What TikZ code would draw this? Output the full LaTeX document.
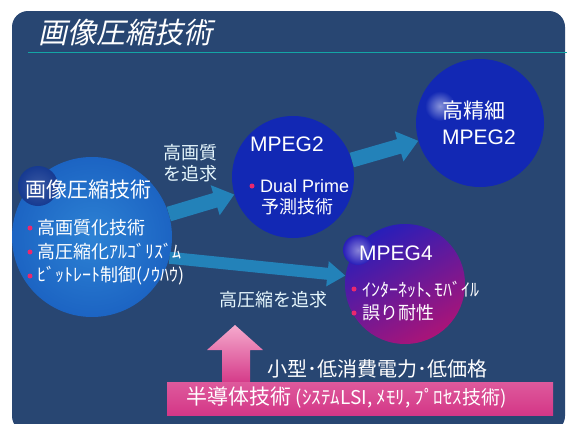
\documentclass[tikz,border=0pt]{standalone}
\usepackage{fontspec}
\setmainfont{Noto Sans CJK JP}
\newfontfamily\latf{Liberation Sans}
\newfontfamily\titlef[FakeSlant=0.22]{Noto Sans CJK JP}
\usetikzlibrary{arrows.meta}
\definecolor{bg}{RGB}{40,70,114}
\definecolor{teal1}{RGB}{20,165,165}
\definecolor{lcirc}{RGB}{28,100,195}
\definecolor{lcircin}{RGB}{45,130,212}
\definecolor{scirc}{RGB}{22,58,145}
\definecolor{bcirc}{RGB}{18,40,180}
\definecolor{mblue}{RGB}{40,30,185}
\definecolor{mmag}{RGB}{170,20,120}
\definecolor{arrc}{RGB}{35,130,185}
\definecolor{dotc}{RGB}{235,40,110}
\definecolor{pinklt}{RGB}{245,170,205}
\definecolor{pinkdk}{RGB}{212,55,135}
\tikzset{
  txt/.style={text=white, inner sep=0pt, anchor=west},
  f21/.style={font=\fontsize{21}{24}\selectfont},
  f18/.style={font=\fontsize{18}{21}\selectfont},
  lat21/.style={font=\latf\fontsize{21}{24}\selectfont},
  lat18/.style={font=\latf\fontsize{18}{21}\selectfont},
  bigarrow/.style={draw=arrc, line width=15pt, -{Triangle[length=20pt,width=30pt]}},
  thinarrow/.style={draw=arrc, line width=12pt, -{Triangle[length=18pt,width=24pt]}},
  dot/.style={circle, fill=dotc, inner sep=0pt, minimum size=5pt},
  ball/.style={circle, inner sep=0pt},
}
\begin{document}
\begin{tikzpicture}[x=1pt,y=-1pt]
\useasboundingbox (0,0) rectangle (567,423);
\fill[white] (0,0) rectangle (567,423);
\fill[bg, rounded corners=16pt] (12,11) rectangle (565,432);
% title
\node[txt, font=\titlef\fontsize{29}{32}\selectfont] (title) at (38,32) {画像圧縮技術};
\draw[teal1, line width=1.5pt] (28,52.5) -- (567,52.5);
% circles
\node[ball, minimum size=160pt, inner color=lcircin, outer color=lcirc] (L) at (92,237) {};
\node[ball, minimum size=40pt, inner color=scirc!85!white, outer color=scirc] (Ls) at (38,186) {};
\node[ball, minimum size=122pt, fill=bcirc] (M2) at (293,177) {};
\node[ball, minimum size=128pt, fill=bcirc] (H) at (480,123) {};
\shade[inner color=white!50!bcirc, outer color=bcirc] (440,106) circle (15);
\node[ball, minimum size=120pt, top color=mblue, bottom color=mmag, shading angle=30] (M4) at (405,284) {};
\shade[inner color=white!45!mblue, outer color=mblue] (358,250) circle (15);
% arrows
\draw[bigarrow] (L) -- (M2);
\draw[bigarrow] (M2) -- (H);
\draw[thinarrow] (L.-15) -- (M4.172);
% left circle text
\node[txt, f21] (Lt) at (25,190) {画像圧縮技術};
\node[dot] (d1) at (30,228) {};
\node[txt, f18] (l1) at (37,228) {高画質化技術};
\node[dot] (d2) at (30,252) {};
\node[txt, f18] (l2) at (37,252) {高圧縮化ｱﾙｺﾞﾘｽﾞﾑ};
\node[dot] (d3) at (30,276) {};
\node[txt, f18] (l3) at (37,276) {ﾋﾞｯﾄﾚｰﾄ制御(ﾉｳﾊｳ)};
% MPEG2 text
\node[txt, lat21] (m2t) at (250,144) {MPEG2};
\node[dot] (d4) at (252,186) {};
\node[txt, lat18] (m2a) at (260,186) {Dual Prime};
\node[txt, f18] (m2b) at (261,207) {予測技術};
% high def
\node[txt, f21] (ht) at (442,111) {高精細};
\node[txt, lat21] (hm) at (442,137) {MPEG2};
% MPEG4
\node[txt, lat21] (m4t) at (359,253) {MPEG4};
\node[dot] (d5) at (354,289) {};
\node[txt, f18] (m4a) at (362,289) {ｲﾝﾀｰﾈｯﾄ､ﾓﾊﾞｲﾙ};
\node[dot] (d6) at (354,313) {};
\node[txt, f18] (m4b) at (362,313) {誤り耐性};
% labels
\node[text=white!90!cyan, f18, align=center, inner sep=0pt] (lab1) at (190,163) {高画質\\を追求};
\node[text=white!90!cyan, f18, inner sep=0pt] (lab2) at (273,300) {高圧縮を追求};
% pink arrow
\shade[top color=pinklt, bottom color=pinkdk] (222,384) -- (222,350) -- (207,350) -- (235,325) -- (263,350) -- (250,350) -- (250,384) -- cycle;
\node[txt, font=\fontsize{20}{23}\selectfont] (lab3) at (267,369) {小型･低消費電力･低価格};
% pink box
\node[inner sep=0pt, minimum width=386pt, minimum height=33pt, top color=pinkdk!70!pinklt, bottom color=pinkdk] (S) at (360,398.5) {};
\node[txt, f21] (St) at (186,398) {半導体技術 {\fontsize{19}{21}\selectfont (ｼｽﾃﾑLSI, ﾒﾓﾘ, ﾌﾟﾛｾｽ技術)}};
\end{tikzpicture}
\end{document}
